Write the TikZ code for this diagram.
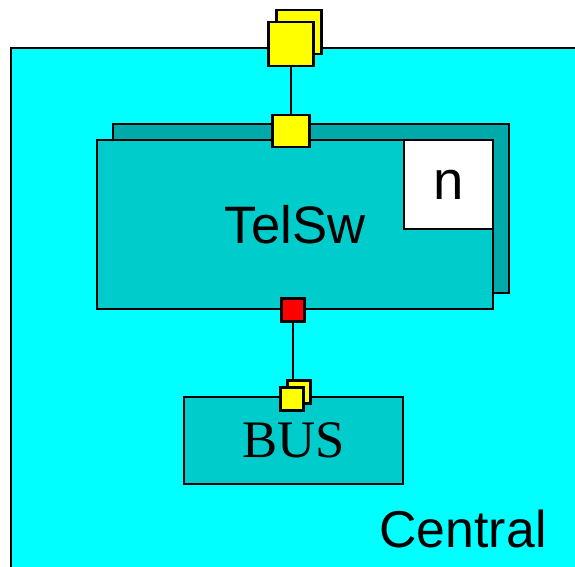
\documentclass[tikz,border=0pt]{standalone}
\usepackage{fontspec}
\setmainfont{Liberation Serif}
\setsansfont{Liberation Sans}
\usetikzlibrary{positioning}
\definecolor{outer}{RGB}{0,255,255}
\definecolor{partfill}{RGB}{0,204,204}
\definecolor{partback}{RGB}{0,170,170}
\definecolor{portfill}{RGB}{255,255,0}
\definecolor{portred}{RGB}{255,0,0}
\begin{document}
\begin{tikzpicture}[x=0.02cm,y=-0.02cm,
    frame/.style={draw=black,line width=1.4pt,inner sep=0pt},
    part/.style={frame,fill=partfill,minimum width=7.92cm,minimum height=3.38cm},
    portbox/.style={frame,fill=portfill,minimum size=0.46cm},
    wire/.style={draw=black,line width=1.4pt}]
    \clip (0,0) rectangle (575,567);
    % enclosing class
    \node[frame,fill=outer,anchor=north west,minimum width=12cm,minimum height=11cm]
      (central) at (10,47) {};
    \node[font=\sffamily\fontsize{29.5}{32}\selectfont,anchor=base]
      (centrallbl) at (463,547) {Central};
    % TelSw part, multiplicity n
    \node[part,fill=partback] (tswback) at (311,208.5) {};
    \node[part,font=\sffamily\fontsize{30}{34}\selectfont] (tsw) at (295,224.5) {TelSw};
    \node[frame,fill=white,minimum size=1.78cm,anchor=north east,
          font=\sffamily\fontsize{31}{36}\selectfont] (mult) at (tsw.north east) {n};
    % BUS part
    \node[frame,fill=partfill,minimum width=4.38cm,minimum height=1.74cm,
          font=\rmfamily\fontsize{30}{34}\selectfont] (bus) at (293.5,440.5) {BUS};
    % connectors
    \node[portbox,minimum width=0.9cm,minimum height=0.88cm] (topportb) at (299,32) {};
    \node[portbox,minimum width=0.9cm,minimum height=0.88cm] (topport) at (291,44) {};
    \node[portbox,minimum width=0.74cm,minimum height=0.64cm] (tswport) at (291,131) {};
    \draw[wire] (topport) -- (tswport);
    \node[portbox,fill=portred] (redport) at (293,310) {};
    \node[portbox] (busportb) at (299,392) {};
    \node[portbox] (busport) at (292,399) {};
    \draw[wire] (redport) -- (redport |- busportb.north);
  \end{tikzpicture}
\end{document}
